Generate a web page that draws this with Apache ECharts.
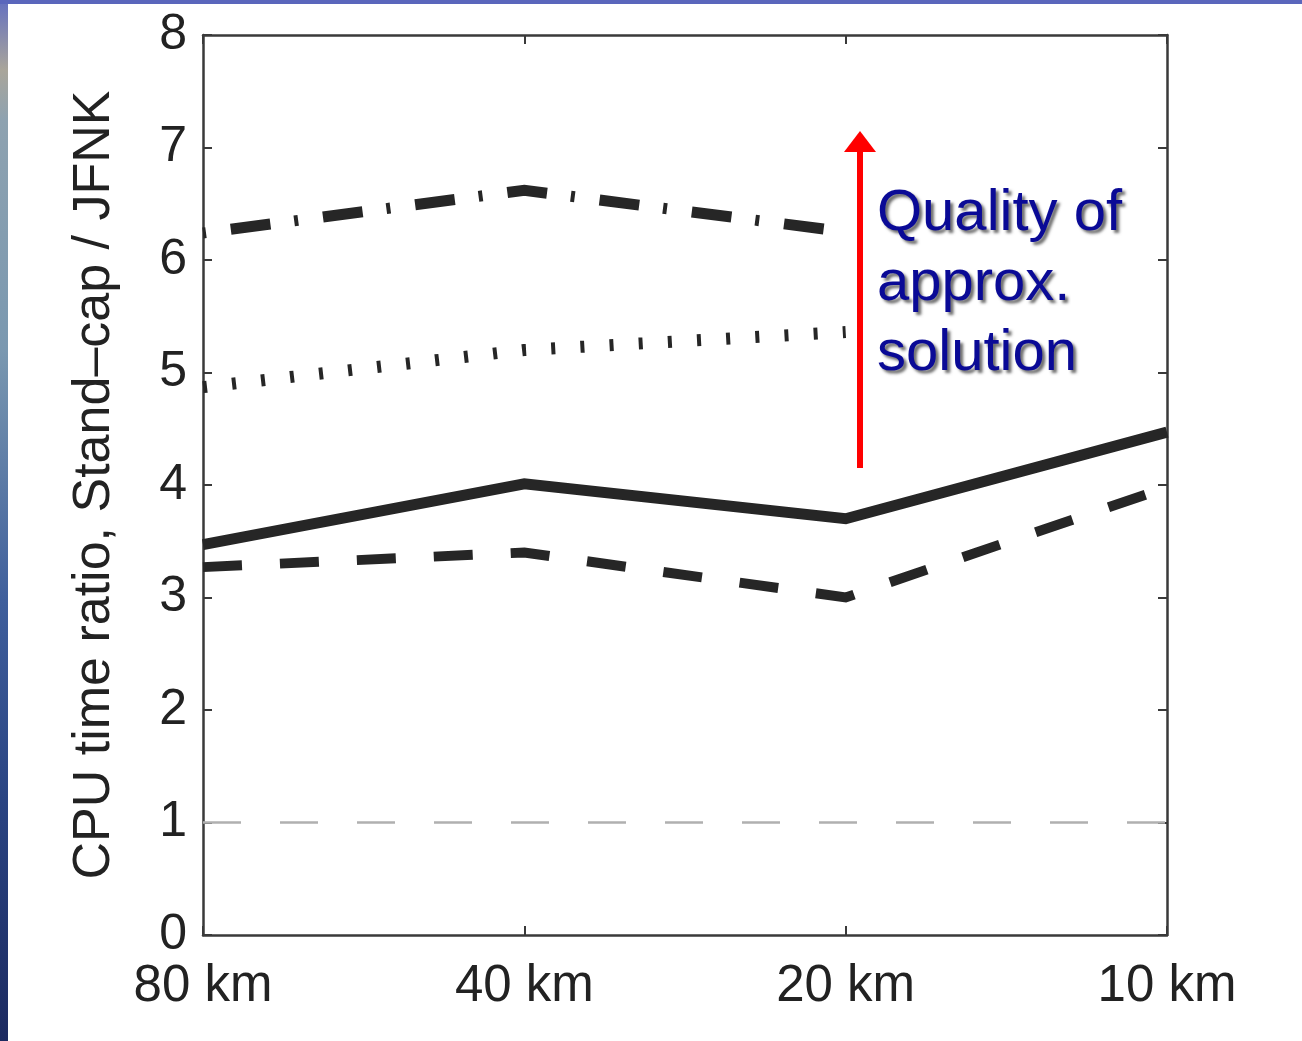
<!DOCTYPE html>
<html>
<head>
<meta charset="utf-8">
<script src="https://cdn.jsdelivr.net/npm/echarts@6/dist/echarts.min.js"></script>
<style>
  html, body { margin: 0; padding: 0; background: #ffffff; width: 1302px; height: 1041px; overflow: hidden; }
  #bgLeft { position: absolute; left: 0; top: 0; width: 8px; height: 1041px;
    background: linear-gradient(to bottom, #6470c0 0px, #a9a59a 70px, #8ea2b0 120px, #7a98b0 350px, #3f5f9c 600px, #2a4482 800px, #1c2a60 1041px); }
  #bgTop { position: absolute; left: 0; top: 0; width: 1302px; height: 4px; background: #5a66bc; }
  #chart { position: absolute; left: 0; top: 0; width: 1302px; height: 1041px; }
</style>
</head>
<body>
<div id="bgLeft"></div>
<div id="bgTop"></div>
<div id="chart"></div>
<script>
// ---- data ----
const categories = ['80 km', '40 km', '20 km', '10 km'];
const yMin = 0, yMax = 8, yInterval = 1;
const solidVals   = [3.47, 4.01, 3.70, 4.47];
const dashedVals  = [3.27, 3.40, 3.00, 3.98];
const dottedVals  = [4.87, 5.20, 5.36, null];
const dashDotVals = [6.24, 6.62, 6.25, null];
const referenceLevel = 1;
const yAxisTitle = 'CPU time ratio, Stand\u2013cap / JFNK';
const annotationLines = ['Quality of', 'approx.', 'solution'];

// ---- chart ----
const FONT = '"Liberation Sans", Arial, Helvetica, sans-serif';
const AX = '#3a3a3a';
const LC = '#262626';
const chart = echarts.init(document.getElementById('chart'), null, { renderer: 'canvas' });

const axisBase = {
  axisLine: { show: true, onZero: false, lineStyle: { color: AX, width: 2.5 } },
  axisTick: { show: true, inside: true, length: 9, lineStyle: { color: AX, width: 2 } },
  splitLine: { show: false }
};

function lineSeries(name, data, width, dash, offset) {
  return {
    name: name, type: 'line', data: data, symbol: 'none', smooth: false,
    connectNulls: false, animation: false,
    lineStyle: { color: LC, width: width, type: dash, dashOffset: offset || 0, cap: 'butt', join: 'miter' }
  };
}

const annoStyle = { font: '58px ' + FONT, fill: '#0a0a96', textVerticalAlign: 'middle',
  textShadowColor: 'rgba(60,60,60,0.75)', textShadowOffsetX: 3, textShadowOffsetY: 3, textShadowBlur: 3 };

const option = {
  animation: false,
  backgroundColor: 'transparent',
  grid: { left: 203, right: 135, top: 35, bottom: 106, containLabel: false },
  xAxis: [
    Object.assign({}, axisBase, {
      type: 'category', data: categories, boundaryGap: false, position: 'bottom',
      axisLabel: { show: true, fontSize: 51, fontFamily: FONT, color: '#222', margin: 26 }
    }),
    Object.assign({}, axisBase, {
      type: 'category', data: categories, boundaryGap: false, position: 'top',
      axisLabel: { show: false }
    })
  ],
  yAxis: [
    Object.assign({}, axisBase, {
      type: 'value', min: yMin, max: yMax, interval: yInterval, position: 'left',
      name: yAxisTitle, nameLocation: 'middle', nameGap: 82, nameRotate: 90,
      nameTextStyle: { fontSize: 52, fontFamily: FONT, color: '#222' },
      axisLabel: { show: true, fontSize: 50, fontFamily: FONT, color: '#222', margin: 16, padding: [4, 0, 0, 0] }
    }),
    Object.assign({}, axisBase, {
      type: 'value', min: yMin, max: yMax, interval: yInterval, position: 'right',
      axisLabel: { show: false }
    })
  ],
  series: [
    Object.assign(lineSeries('solid', solidVals, 11, 'solid'), {
      markLine: {
        silent: true, symbol: 'none', animation: false,
        label: { show: false },
        lineStyle: { color: '#b0b0b0', width: 2.5, type: [38, 39], cap: 'butt' },
        data: [{ yAxis: referenceLevel }]
      }
    }),
    lineSeries('dashed', dashedVals, 10, [39, 38], 0),
    lineSeries('dotted', dottedVals, 12, [4, 25.2], 0),
    lineSeries('dashdot', dashDotVals, 11, [40, 24, 4, 25], 65)
  ],
  graphic: [
    { type: 'line', shape: { x1: 860, y1: 468, x2: 860, y2: 148 }, style: { stroke: '#ff0000', lineWidth: 6 }, z: 10 },
    { type: 'polygon', shape: { points: [[860, 131], [844, 152], [876, 152]] }, style: { fill: '#ff0000' }, z: 10 },
    { type: 'text', x: 877, y: 214, z: 10, style: Object.assign({ text: annotationLines[0] }, annoStyle) },
    { type: 'text', x: 877, y: 284, z: 10, style: Object.assign({ text: annotationLines[1] }, annoStyle) },
    { type: 'text', x: 877, y: 354, z: 10, style: Object.assign({ text: annotationLines[2] }, annoStyle) }
  ]
};
chart.setOption(option);
</script>
</body>
</html>
